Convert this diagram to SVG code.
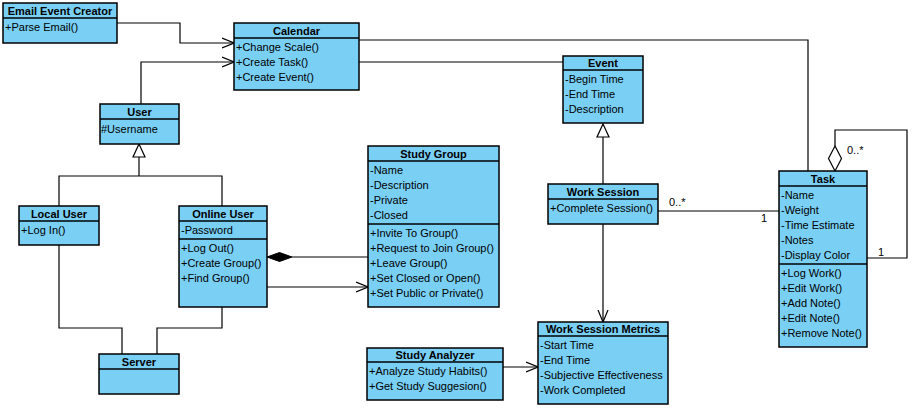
<svg xmlns="http://www.w3.org/2000/svg" width="916" height="409" viewBox="0 0 916 409">
<defs>
<style>
.box{fill:#7ACFF5;stroke:#000;stroke-width:1.5}
.div{stroke:#000;stroke-width:1.5}
.t{font-family:"Liberation Sans",Arial,sans-serif;font-size:11px;fill:#000}
.h{font-family:"Liberation Sans",Arial,sans-serif;font-size:11px;font-weight:bold;fill:#000;text-anchor:middle}
.c{fill:none;stroke:#000;stroke-width:1.2}
.lbl{font-family:"Liberation Sans",Arial,sans-serif;font-size:11px;fill:#000}
</style>
<marker id="open" viewBox="0 0 12 12" refX="12" refY="6" markerWidth="12" markerHeight="12" markerUnits="userSpaceOnUse" orient="auto">
<path d="M0,1 L12,6 L0,11" fill="none" stroke="#000" stroke-width="1.2"/>
</marker>
</defs>
<rect width="916" height="409" fill="#fff"/>

<g id="connectors">
<path class="c" d="M117,23 H180 V43 H234" marker-end="url(#open)"/>
<path class="c" d="M141,104 V62 H234" marker-end="url(#open)"/>
<path class="c" d="M359,40 H808 V171"/>
<path class="c" d="M359,62 H563"/>
<path class="c" d="M603,184 V136"/>
<path d="M603,124 L609,137 L597,137 Z" fill="#fff" stroke="#000" stroke-width="1.2"/>
<path class="c" d="M603,224 V322" marker-end="url(#open)"/>
<path class="c" d="M658,211 H779"/>
<text class="lbl" x="669" y="206">0..*</text>
<text class="lbl" x="761" y="222">1</text>
<path class="c" d="M59,206 V176 H222 V206"/>
<path class="c" d="M139,176 V157"/>
<path d="M139,144 L145,157 L133,157 Z" fill="#fff" stroke="#000" stroke-width="1.2"/>
<path class="c" d="M59,245 V328 H122 V354"/>
<path class="c" d="M222,307 V328 H157 V354"/>
<path class="c" d="M292,257 H368"/>
<path d="M267,257 L279.5,252.5 L292,257 L279.5,261.5 Z" fill="#000" stroke="#000" stroke-width="1"/>
<path class="c" d="M267,287 H368" marker-end="url(#open)"/>
<path class="c" d="M503,367 H538" marker-end="url(#open)"/>
<path class="c" d="M867,258 H907 V130 H835 V146"/>
<path d="M835,146 L841.5,158.5 L835,171 L828.5,158.5 Z" fill="#fff" stroke="#000" stroke-width="1.2"/>
<text class="lbl" x="847" y="154">0..*</text>
<text class="lbl" x="878" y="256">1</text>
</g>

<g id="email-event-creator">
<rect class="box" x="3" y="3" width="114" height="40"/>
<line class="div" x1="3" y1="18" x2="117" y2="18"/>
<text class="h" x="60" y="15">Email Event Creator</text>
<text class="t" x="5" y="31">+Parse Email()</text>
</g>

<g id="calendar">
<rect class="box" x="234" y="23" width="125" height="67"/>
<line class="div" x1="234" y1="38" x2="359" y2="38"/>
<text class="h" x="296.5" y="35">Calendar</text>
<text class="t" x="236" y="51">+Change Scale()</text>
<text class="t" x="236" y="66">+Create Task()</text>
<text class="t" x="236" y="81">+Create Event()</text>
</g>

<g id="event">
<rect class="box" x="563" y="56" width="80" height="67"/>
<line class="div" x1="563" y1="70" x2="643" y2="70"/>
<text class="h" x="603" y="67">Event</text>
<text class="t" x="565" y="83">-Begin Time</text>
<text class="t" x="565" y="98">-End Time</text>
<text class="t" x="565" y="113">-Description</text>
</g>

<g id="user">
<rect class="box" x="100" y="104" width="79" height="40"/>
<line class="div" x1="100" y1="119" x2="179" y2="119"/>
<text class="h" x="139.5" y="116">User</text>
<text class="t" x="101" y="133">#Username</text>
</g>

<g id="local-user">
<rect class="box" x="19" y="206" width="80" height="39"/>
<line class="div" x1="19" y1="221" x2="99" y2="221"/>
<text class="h" x="59" y="218">Local User</text>
<text class="t" x="21" y="234">+Log In()</text>
</g>

<g id="online-user">
<rect class="box" x="179" y="206" width="88" height="101"/>
<line class="div" x1="179" y1="221" x2="267" y2="221"/>
<line class="div" x1="179" y1="239" x2="267" y2="239"/>
<text class="h" x="223" y="218">Online User</text>
<text class="t" x="181" y="234">-Password</text>
<text class="t" x="181" y="252">+Log Out()</text>
<text class="t" x="181" y="267">+Create Group()</text>
<text class="t" x="181" y="282">+Find Group()</text>
</g>

<g id="server">
<rect class="box" x="99" y="354" width="80" height="40"/>
<line class="div" x1="99" y1="369" x2="179" y2="369"/>
<text class="h" x="139" y="366">Server</text>
</g>

<g id="study-group">
<rect class="box" x="368" y="146" width="131" height="161"/>
<line class="div" x1="368" y1="161" x2="499" y2="161"/>
<line class="div" x1="368" y1="224" x2="499" y2="224"/>
<text class="h" x="433.5" y="158">Study Group</text>
<text class="t" x="370" y="174">-Name</text>
<text class="t" x="370" y="189">-Description</text>
<text class="t" x="370" y="204">-Private</text>
<text class="t" x="370" y="219">-Closed</text>
<text class="t" x="370" y="237">+Invite To Group()</text>
<text class="t" x="370" y="252">+Request to Join Group()</text>
<text class="t" x="370" y="267">+Leave Group()</text>
<text class="t" x="370" y="282">+Set Closed or Open()</text>
<text class="t" x="370" y="297">+Set Public or Private()</text>
</g>

<g id="work-session">
<rect class="box" x="548" y="184" width="110" height="40"/>
<line class="div" x1="548" y1="199" x2="658" y2="199"/>
<text class="h" x="603" y="196">Work Session</text>
<text class="t" x="550" y="212">+Complete Session()</text>
</g>

<g id="work-session-metrics">
<rect class="box" x="538" y="322" width="130" height="82"/>
<line class="div" x1="538" y1="336" x2="668" y2="336"/>
<text class="h" x="603" y="333">Work Session Metrics</text>
<text class="t" x="540" y="349">-Start Time</text>
<text class="t" x="540" y="364">-End Time</text>
<text class="t" x="540" y="379">-Subjective Effectiveness</text>
<text class="t" x="540" y="394">-Work Completed</text>
</g>

<g id="study-analyzer">
<rect class="box" x="367" y="348" width="136" height="52"/>
<line class="div" x1="367" y1="362" x2="503" y2="362"/>
<text class="h" x="435" y="359">Study Analyzer</text>
<text class="t" x="369" y="375">+Analyze Study Habits()</text>
<text class="t" x="369" y="390">+Get Study Suggesion()</text>
</g>

<g id="task">
<rect class="box" x="779" y="171" width="88" height="176"/>
<line class="div" x1="779" y1="186" x2="867" y2="186"/>
<line class="div" x1="779" y1="264" x2="867" y2="264"/>
<text class="h" x="823" y="183">Task</text>
<text class="t" x="781" y="199">-Name</text>
<text class="t" x="781" y="214">-Weight</text>
<text class="t" x="781" y="229">-Time Estimate</text>
<text class="t" x="781" y="244">-Notes</text>
<text class="t" x="781" y="259">-Display Color</text>
<text class="t" x="781" y="277">+Log Work()</text>
<text class="t" x="781" y="292">+Edit Work()</text>
<text class="t" x="781" y="307">+Add Note()</text>
<text class="t" x="781" y="322">+Edit Note()</text>
<text class="t" x="781" y="337">+Remove Note()</text>
</g>
</svg>
